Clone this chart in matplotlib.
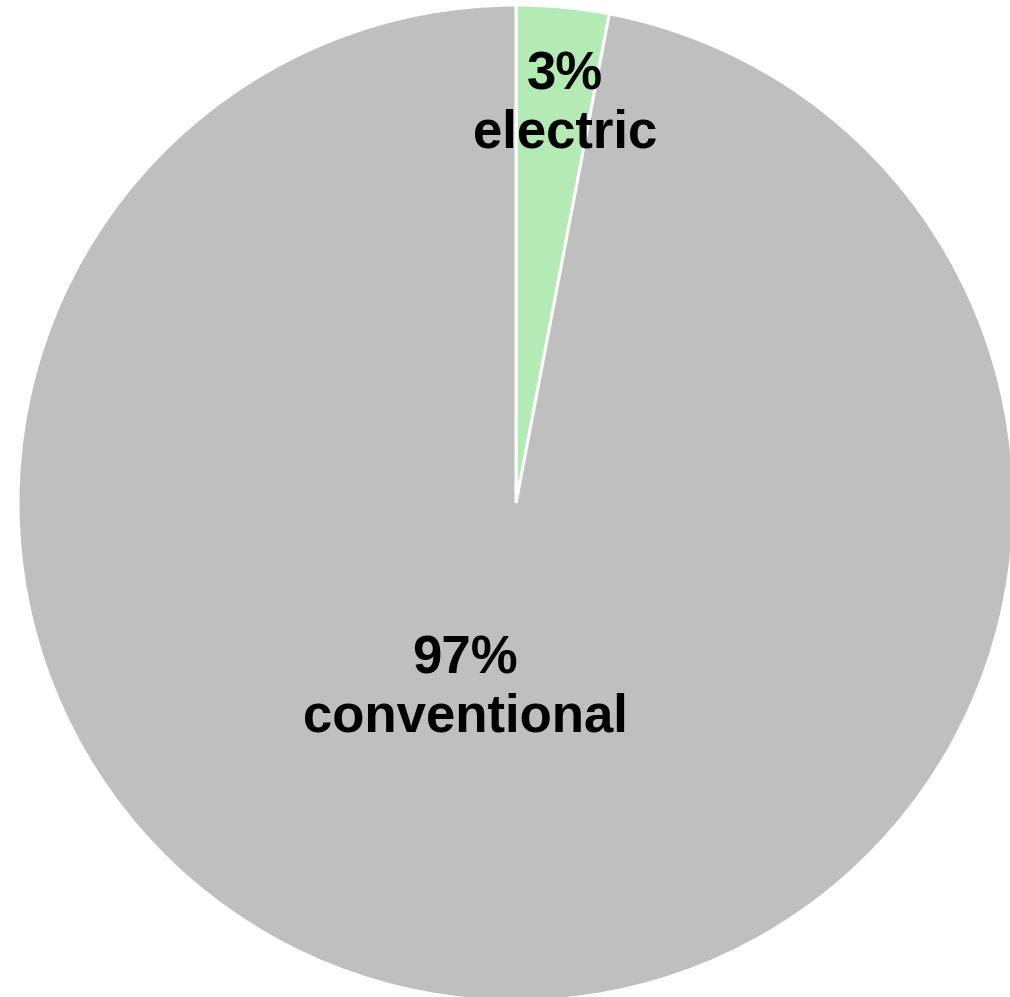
import matplotlib
matplotlib.use("Agg")
import matplotlib.pyplot as plt

categories = ["electric", "conventional"]
shares = [3, 97]
colors = ["#B4EAB4", "#BFBFBF"]

# label anchor points in data units (pie radius = 1)
label_xy = [(0.098, 0.80), (-0.102, -0.373)]

W, H, DPI = 1010, 997, 100
fig = plt.figure(figsize=(W / DPI, H / DPI), dpi=DPI)

cx, cy, r = 516, 503, 498  # pie centre and radius in pixels
box = [(cx - r) / W, (H - cy - r) / H, 2 * r / W, 2 * r / H]
ax = fig.add_axes(box)

wedges, _ = ax.pie(
    shares,
    colors=colors,
    startangle=90,
    counterclock=False,
    wedgeprops=dict(edgecolor="white", linewidth=2.2),
)
ax.set_xlim(-1, 1)
ax.set_ylim(-1, 1)
ax.set_aspect("auto")
ax.set_position(box)
ax.axis("off")

for name, val, (x, y) in zip(categories, shares, label_xy):
    ax.text(x, y, f"{val}%\n{name}", ha="center", va="center",
            fontsize=38, fontweight="bold", family="Liberation Sans",
            linespacing=1.2, color="black")

fig.savefig("out.png", dpi=DPI)
